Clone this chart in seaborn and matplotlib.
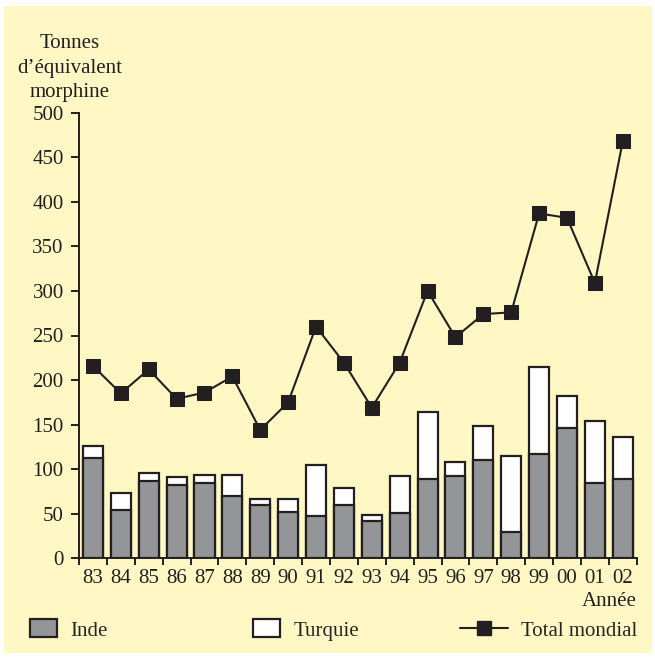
import numpy as np
import pandas as pd
import matplotlib
matplotlib.use("Agg")
import matplotlib.pyplot as plt
from matplotlib.patches import Rectangle, Patch
from matplotlib.lines import Line2D
import seaborn as sns

years = ["83", "84", "85", "86", "87", "88", "89", "90", "91", "92",
         "93", "94", "95", "96", "97", "98", "99", "00", "01", "02"]
inde = [113, 54, 87, 82, 84, 70, 59.5, 52, 47.5, 60,
        41.5, 50.5, 88.5, 92, 110, 29.5, 116.5, 146, 85, 88.5]
turquie = [12.5, 19, 9, 9, 10, 24, 6.5, 14, 57, 18.5,
           7.5, 41.5, 75.5, 16, 38.5, 85.5, 98.5, 36, 69, 47.5]
total_mondial = [216, 185, 212, 179, 186, 204, 144, 175, 260, 219.5,
                 169, 219.5, 300, 248, 274, 276, 387, 382, 309, 468]
yticks = list(range(0, 501, 50))

SERIF = ["Liberation Serif", "DejaVu Serif"]
sns.set_theme(style="ticks")
plt.rcParams["font.family"] = SERIF
FS = 15

BG = "#FFF8C4"
GRAY = "#939598"
DARK = "#231F20"

df = pd.DataFrame({"year": years, "inde": inde, "turquie": turquie,
                   "total": total_mondial})
df["stack"] = df["inde"] + df["turquie"]
df["pos"] = np.arange(len(df))

fig = plt.figure(figsize=(6.55, 6.6), dpi=100, facecolor="white")
fig.patches.append(Rectangle((4 / 655, 1 - 653 / 660), 648 / 655, 647 / 660,
                             transform=fig.transFigure, facecolor=BG,
                             edgecolor="none", zorder=-10))
ax = fig.add_axes([79 / 655, 1 - 558.3 / 660, (636.7 - 79) / 655, (558.3 - 112.7) / 660])
ax.set_facecolor("none")

sns.barplot(data=df, x="year", y="stack", color="white", width=0.72,
            edgecolor=DARK, linewidth=1.6, saturation=1, ax=ax, zorder=2)
sns.barplot(data=df, x="year", y="inde", color=GRAY, width=0.72,
            edgecolor=DARK, linewidth=1.6, saturation=1, ax=ax, zorder=3)
sns.lineplot(data=df, x="pos", y="total", color=DARK, linewidth=1.5,
             marker="s", markersize=10, markeredgecolor=DARK,
             markerfacecolor=DARK, ax=ax, zorder=4)

ax.set_xlim(-0.5, len(years) - 0.5)
ax.set_ylim(0, 500)
ax.set_yticks(yticks)
ax.set_yticklabels([str(v) for v in yticks])
ax.set_xticks(np.arange(len(years)))
ax.set_xticklabels(years)
ax.set_xticks(np.arange(len(years) + 1) - 0.5, minor=True)
ax.tick_params(axis="x", which="major", length=0, pad=8, labelsize=FS, colors=DARK)
ax.tick_params(axis="x", which="minor", length=5, width=1.4, direction="out", color=DARK)
ax.tick_params(axis="y", which="major", length=6, width=1.4, pad=5, labelsize=FS, colors=DARK)
ax.set_xlabel("")
ax.set_ylabel("")
for s in ["top", "right"]:
    ax.spines[s].set_visible(False)
for s in ["left", "bottom"]:
    ax.spines[s].set_linewidth(1.4)
    ax.spines[s].set_color(DARK)

fig.text(70 / 655, 1 - 68 / 660, "Tonnes\nd\u2019\u00e9quivalent\nmorphine",
         ha="center", va="center", fontsize=FS, color=DARK, linespacing=1.38)
fig.text(636.7 / 655, 1 - 601 / 660, "Ann\u00e9e", ha="right", va="center",
         fontsize=FS, color=DARK)

ly = 1 - 630 / 660
h1 = Patch(facecolor=GRAY, edgecolor=DARK, linewidth=1.6, label="Inde")
h2 = Patch(facecolor="white", edgecolor=DARK, linewidth=1.6, label="Turquie")
h3 = Line2D([], [], color=DARK, linewidth=1.5, marker="s", markersize=10,
            label="Total mondial")
for h, x, hl in [(h1, 30, 1.3), (h2, 253, 1.3), (h3, 460, 2.3)]:
    fig.legend(handles=[h], loc="center left", bbox_to_anchor=(x / 655, ly),
               frameon=False, borderpad=0, borderaxespad=0, handlelength=hl,
               handleheight=0.95, handletextpad=0.65, fontsize=FS)

fig.savefig("out.png", dpi=100, facecolor="white")
